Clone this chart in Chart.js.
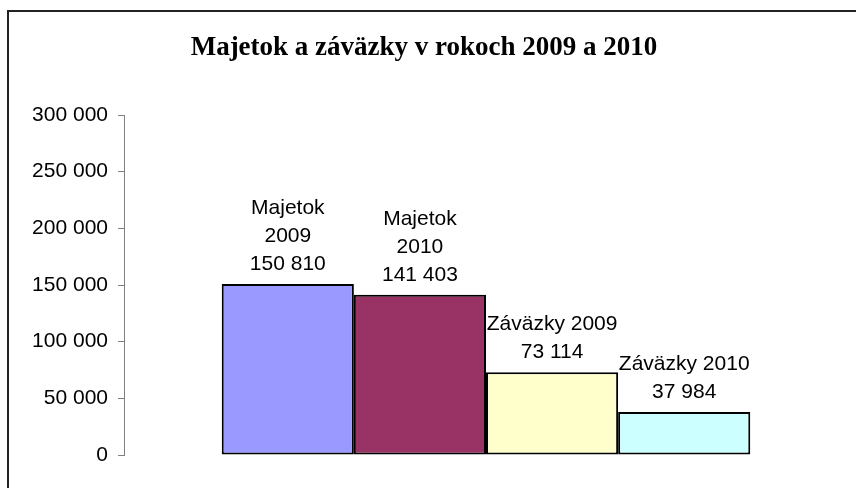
<!DOCTYPE html>
<html>
<head>
<meta charset="utf-8">
<script src="https://cdn.jsdelivr.net/npm/chart.js@4/dist/chart.umd.min.js"></script>
<style>
  html, body { margin: 0; padding: 0; background: #fff; }
  #wrap { position: relative; width: 856px; height: 488px; overflow: hidden; }
  #frame { position: absolute; left: 7px; top: 10px; width: 900px; height: 600px;
           border-left: 2px solid #222; border-top: 2px solid #222; box-sizing: border-box; }
  canvas { position: absolute; left: 0; top: 0; }
</style>
</head>
<body>
<div id="wrap">
  <div id="frame"></div>
  <canvas id="chart" width="856" height="488"></canvas>
</div>
<script>
const category = ['2009 - 2010'];
const seriesNames = ['Majetok 2009', 'Majetok 2010', 'Záväzky 2009', 'Záväzky 2010'];
const labelLines = [['Majetok', '2009'], ['Majetok', '2010'], ['Záväzky 2009'], ['Záväzky 2010']];
const values = [150810, 141403, 73114, 37984];
const colors = ['#9999FF', '#993366', '#FFFFCC', '#CCFFFF'];
const yTicks = [0, 50000, 100000, 150000, 200000, 250000, 300000];

function fmt(v) {
  return String(v).replace(/\B(?=(\d{3})+(?!\d))/g, ' ');
}

const barLabels = {
  id: 'barLabels',
  afterDatasetsDraw(chart) {
    const ctx = chart.ctx;
    ctx.save();
    ctx.font = '21px "Liberation Sans", Arial, sans-serif';
    ctx.fillStyle = '#000';
    ctx.textAlign = 'center';
    ctx.textBaseline = 'middle';
    chart.data.datasets.forEach((ds, i) => {
      const bar = chart.getDatasetMeta(i).data[0];
      const lines = labelLines[i].concat([fmt(values[i])]);
      let y = bar.y - 20;
      for (let k = lines.length - 1; k >= 0; k--) {
        ctx.fillText(lines[k], bar.x, y);
        y -= 28;
      }
    });
    ctx.restore();
  }
};

const ctx = document.getElementById('chart').getContext('2d');
new Chart(ctx, {
  type: 'bar',
  data: {
    labels: category,
    datasets: seriesNames.map((name, i) => ({
      label: name,
      data: [values[i]],
      backgroundColor: colors[i],
      borderColor: '#000',
      borderWidth: 2,
      borderSkipped: false,
      barPercentage: 1,
      categoryPercentage: 0.73
    }))
  },
  options: {
    responsive: false,
    animation: false,
    layout: { padding: { left: 0, right: 8, top: 0, bottom: 33 } },
    plugins: {
      legend: { display: false },
      tooltip: { enabled: false },
      title: {
        display: true,
        text: 'Majetok a záväzky v rokoch 2009 a 2010',
        color: '#000',
        font: { family: '"Liberation Serif", "Times New Roman", serif', size: 27, weight: 'bold', lineHeight: 1.2 },
        padding: { top: 31.8, bottom: 50.8 }
      }
    },
    scales: {
      x: {
        ticks: { display: false },
        grid: { display: false, drawTicks: false },
        border: { display: false }
      },
      y: {
        min: 0,
        max: 300000,
        afterBuildTicks(scale) {
          scale.ticks = yTicks.map(v => ({ value: v }));
        },
        afterFit(scale) { scale.width = 124; },
        ticks: {
          color: '#000',
          padding: 10,
          font: { family: '"Liberation Sans", Arial, sans-serif', size: 21 },
          callback: v => fmt(v)
        },
        grid: { drawOnChartArea: false, drawTicks: true, tickLength: 6, color: '#808080' },
        border: { display: true, color: '#808080', width: 1 }
      }
    }
  },
  plugins: [barLabels]
});
</script>
</body>
</html>
